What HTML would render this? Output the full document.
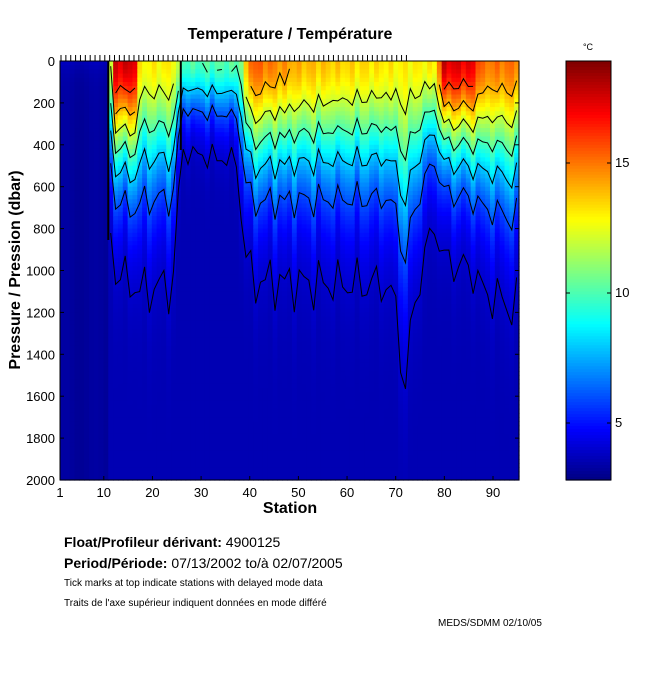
<!DOCTYPE html>
<html><head><meta charset="utf-8"><style>
body{margin:0;background:#fff;width:650px;height:680px;overflow:hidden;font-family:"Liberation Sans",sans-serif}
svg{position:absolute;left:0;top:0}
</style></head><body>
<svg id="s" width="650" height="680" xmlns="http://www.w3.org/2000/svg" font-family="Liberation Sans, sans-serif">
<rect width="650" height="680" fill="#fff"/>
<g id="hm"></g><g id="ct" fill="none" stroke="#000" stroke-width="1"></g>
<g id="cb"></g>
<rect x="60" y="61" width="459" height="419" fill="none" stroke="#000"/>
<g id="ax" font-size="13" fill="#000"></g>
<text x="290" y="39" font-size="16" font-weight="bold" text-anchor="middle">Temperature / Température</text>
<text x="290" y="513" font-size="16" font-weight="bold" text-anchor="middle">Station</text>
<text transform="translate(20,270) rotate(-90)" font-size="16" font-weight="bold" text-anchor="middle">Pressure / Pression (dbar)</text>
<text x="588" y="50" font-size="9" text-anchor="middle">°C</text>
<text x="64" y="547" font-size="14"><tspan font-weight="bold">Float/Profileur dérivant:</tspan> 4900125</text>
<text x="64" y="568" font-size="14"><tspan font-weight="bold">Period/Période:</tspan> 07/13/2002  to/à  02/07/2005</text>
<text x="64" y="586" font-size="10">Tick marks at top indicate stations with delayed mode data</text>
<text x="64" y="606" font-size="10">Traits de l'axe supérieur indiquent données en mode différé</text>
<text x="438" y="626" font-size="10">MEDS/SDMM  02/10/05</text>
</svg>
<script>
var NS="http://www.w3.org/2000/svg";
function el(t,a,p){var e=document.createElementNS(NS,t);for(var k in a)e.setAttribute(k,a[k]);(p||document.getElementById('s')).appendChild(e);return e;}
function jet(v){var t=(v-2.8)/(18.8-2.8);t=Math.max(0,Math.min(1,t));
 function c(x){return Math.max(0,Math.min(1,x));}
 var r=c(Math.min(4*t-1.5,-4*t+4.5)),g=c(Math.min(4*t-0.5,-4*t+3.5)),b=c(Math.min(4*t+0.5,-4*t+2.5));
 return 'rgb('+Math.round(r*255)+','+Math.round(g*255)+','+Math.round(b*255)+')';}
var anchors=[[1,3.4,150],[10,3.6,160],[11,12,420],[12,17.5,480],[16,17.5,510],[17,13,560],[24,13,540],[25,11.5,330],[26,10,240],[37,10.2,260],[38,11,400],[40,15.5,510],[50,14,530],[60,13.5,535],[68,13.2,540],[70,13,600],[72,13,790],[74,13,580],[76,13,470],[78,13,400],[80,17.5,450],[86,17,480],[88,15,540],[95,15,580]];
function interp(s,i){for(var k=0;k<anchors.length-1;k++){var a=anchors[k],b=anchors[k+1];if(s>=a[0]&&s<=b[0]){var f=(s-a[0])/((b[0]-a[0])||1);return a[i]+(b[i]-a[i])*f;}}return anchors[anchors.length-1][i];}
var Td=3.6;
function par(s){var Ts=interp(s,1),D=interp(s,2);D*=1+0.08*Math.sin(s*1.7)+0.06*Math.sin(s*3.1);Ts+=0.4*Math.sin(s*2.3);return [Ts,D];}
function T(s,p){var q=par(s);if(s<11){return 3.25+0.5*Math.exp(-p/60)+0.1*Math.sin(s);}return Td+(q[0]-Td)*Math.exp(-Math.pow(p/q[1],1.7));}
var X0=60,W=459,Y0=61,H=419,sw=W/95;
function sx(s){return X0+(s-1)*(493-60)/89;}
function py(p){return Y0+p*H/2000;}
var hm=document.getElementById('hm');
for(var s=1;s<=95;s++){for(var r=0;r<100;r++){var p=r*20+10;
 el('rect',{x:(X0+(s-1)*sw).toFixed(2),y:(Y0+r*H/100).toFixed(2),width:(sw+0.6).toFixed(2),height:(H/100+0.6).toFixed(2),fill:jet(T(s,p))},hm);}}
var ct=document.getElementById('ct');
[4,6,8,10,12,14,16].forEach(function(L){var pts=[];
 for(var s=11;s<=95;s++){var x=(X0+(s-0.5)*sw).toFixed(1);
  if(T(s,0)>L&&T(s,2000)<L){var lo=0,hi=2000;for(var i=0;i<30;i++){var m=(lo+hi)/2;if(T(s,m)>L)lo=m;else hi=m;}
   pts.push(x+','+py(lo).toFixed(1));}
  else{if(pts.length>1)el('polyline',{points:pts.join(' ')},ct);pts=[];}}
 if(pts.length>1)el('polyline',{points:pts.join(' ')},ct);});
el('line',{x1:X0+10*sw,y1:61,x2:X0+10*sw,y2:240,stroke:'#000','stroke-width':2},ct);
el('line',{x1:X0+25*sw,y1:61,x2:X0+25*sw,y2:150,stroke:'#000','stroke-width':2},ct);
var cb=document.getElementById('cb');
for(var i=0;i<140;i++){var v=18.8-i*(16/140);el('rect',{x:566,y:(61+i*419/140).toFixed(2),width:45,height:3.6,fill:jet(v)},cb);}
el('rect',{x:566,y:61,width:45,height:419,fill:'none',stroke:'#000'},cb);
var ax=document.getElementById('ax');
[15,10,5].forEach(function(v){var y=423-(v-5)*26;el('line',{x1:566,y1:y,x2:570,y2:y,stroke:'#000'},cb);el('line',{x1:607,y1:y,x2:611,y2:y,stroke:'#000'},cb);var t=el('text',{x:615,y:y+4},ax);t.textContent=v;});
for(var p=0;p<=2000;p+=200){var y=py(p);el('line',{x1:60,y1:y,x2:64,y2:y,stroke:'#000'},ax);el('line',{x1:515,y1:y,x2:519,y2:y,stroke:'#000'},ax);var t=el('text',{x:55,y:y+5,'text-anchor':'end'},ax);t.textContent=p;}
[1,10,20,30,40,50,60,70,80,90].forEach(function(s){var x=sx(s);el('line',{x1:x,y1:480,x2:x,y2:476,stroke:'#000'},ax);var t=el('text',{x:x,y:497,'text-anchor':'middle'},ax);t.textContent=s;});
for(var s=1;s<=72;s++){var x=sx(s)+1;el('line',{x1:x,y1:55,x2:x,y2:61,stroke:'#000'},ax);}
</script>
</body></html>
